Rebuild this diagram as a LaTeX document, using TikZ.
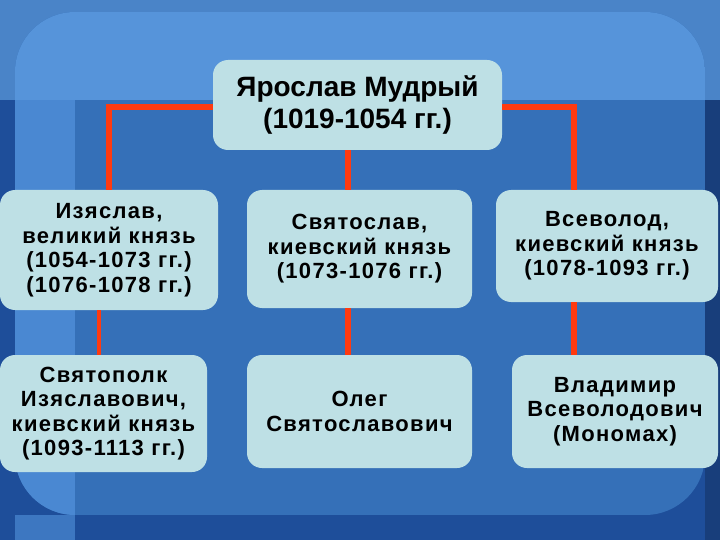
\documentclass[tikz,border=0pt]{standalone}
\usepackage{fontspec}
\setmainfont{Liberation Sans}
\usepackage{tikz}

\definecolor{bgdark}{HTML}{1E4E9A}
\definecolor{bgtop}{HTML}{4A84C8}
\definecolor{panel}{HTML}{3570B8}
\definecolor{paneltop}{HTML}{5694DA}
\definecolor{panelleft}{HTML}{4A88D2}
\definecolor{boxfill}{HTML}{BEE0E5}
\definecolor{linkred}{HTML}{FF3A10}

\begin{document}
\begin{tikzpicture}[x=1pt,y=-1pt]
		\tikzstyle{person}=[fill=boxfill, rounded corners=15pt, align=center, inner sep=2pt, font=\bfseries\fontsize{22}{24.5}\selectfont\addfontfeatures{LetterSpace=6}];
		\tikzstyle{link}=[draw=linkred, line width=6pt];
		\tikzstyle{thinlink}=[draw=linkred, line width=3.5pt];

		\useasboundingbox (0,0) rectangle (720,540);

		% background
		\fill[bgdark] (0,0) rectangle (720,540);
		\fill[bgtop] (0,0) rectangle (720,100);
		\fill[bgdark!80!black] (705,100) rectangle (720,540);
		\begin{scope}
			\clip[rounded corners=60pt] (15,12) rectangle (705,515);
			\fill[panel] (15,12) rectangle (705,515);
			\fill[paneltop] (15,12) rectangle (705,100);
			\fill[panelleft] (15,100) rectangle (75,515);
		\end{scope}
		\fill[panelleft!70!bgdark] (15,515) rectangle (75,540);

		% persons
		\node[person, minimum width=289pt, minimum height=90pt, font=\bfseries\fontsize{28}{32}\selectfont] (yar) at (357.5,105) {Ярослав Мудрый\\(1019-1054 гг.)};

		\node[person, minimum width=218pt, minimum height=120pt] (izy) at (109,250) {Изяслав,\\великий князь\\(1054-1073 гг.)\\(1076-1078 гг.)};
		\node[person, minimum width=225pt, minimum height=118pt] (svy) at (359.5,249) {Святослав,\\киевский князь\\(1073-1076 гг.)};
		\node[person, minimum width=222pt, minimum height=112pt] (vse) at (607,246) {Всеволод,\\киевский князь\\(1078-1093 гг.)};

		\node[person, minimum width=207pt, minimum height=117pt] (spo) at (103.5,413.5) {Святополк\\Изяславович,\\киевский князь\\(1093-1113 гг.)};
		\node[person, minimum width=225pt, minimum height=113pt] (ole) at (359.5,411.5) {Олег\\Святославович};
		\node[person, minimum width=206pt, minimum height=113pt] (vla) at (615,411.5) {Владимир\\Всеволодович\\(Мономах)};

		% links
		\coordinate (lline) at (99,0);
		\coordinate (mline) at (348,0);
		\coordinate (rline) at (574,0);

		\path[link] ([yshift=-2pt]yar.west) -| (izy.north);
		\path[link] (mline |- yar.south) -- (mline |- svy.north);
		\path[link] ([yshift=-2pt]yar.east) -| (rline |- vse.north);

		\path[thinlink] (lline |- izy.south) -- (lline |- spo.north);
		\path[link] (mline |- svy.south) -- (mline |- ole.north);
		\path[link] (rline |- vse.south) -- (rline |- vla.north);
\end{tikzpicture}
\end{document}
